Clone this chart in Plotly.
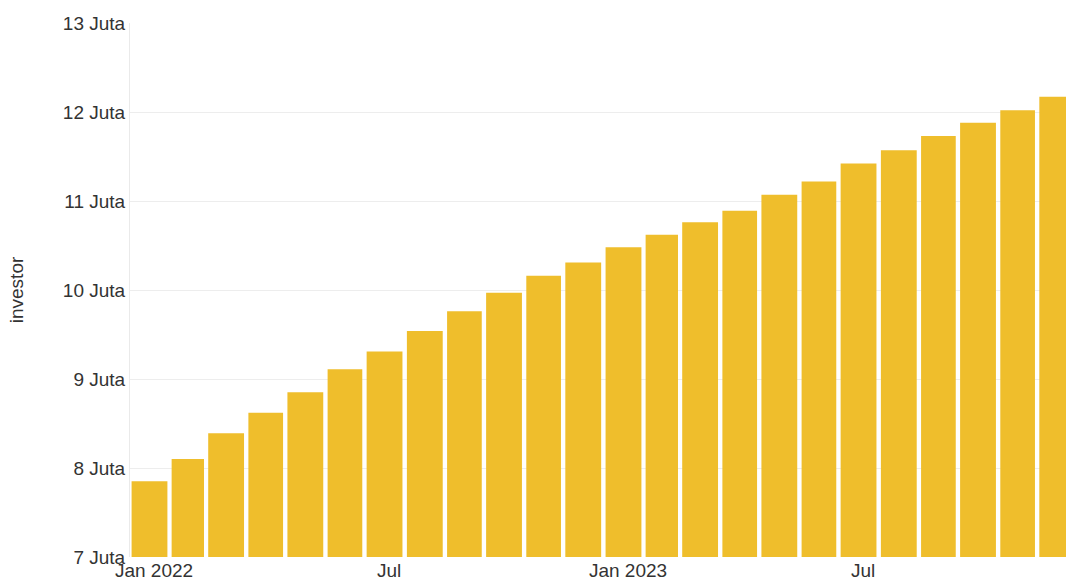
import pandas as pd
import plotly.graph_objects as go

months = pd.date_range("2022-01-01", "2023-12-01", freq="MS")
investors_juta = [7.85, 8.10, 8.39, 8.62, 8.85, 9.11, 9.31, 9.54, 9.76, 9.97, 10.16, 10.31,
                  10.48, 10.62, 10.76, 10.89, 11.07, 11.22, 11.42, 11.57, 11.73, 11.88, 12.02, 12.17]
y_ticks = [7, 8, 9, 10, 11, 12, 13]
y_tick_labels = [f"{v} Juta" for v in y_ticks]
x_tick_dates = ["2022-01-20", "2022-07-20", "2023-01-20", "2023-07-20"]
x_tick_labels = ["Jan 2022", "Jul", "Jan 2023", "Jul"]

# bars span their month: centred at mid-month, width proportional to month length
days = months.days_in_month
centers = [m + pd.Timedelta(days=d / 2) for m, d in zip(months, days)]
widths = [d * 0.89 * 86400000 for d in days]

fig = go.Figure(go.Bar(
    x=centers, y=investors_juta, width=widths,
    marker=dict(color="#EFBE2C", line=dict(width=0)),
    name="investor",
))

font = "Liberation Sans, Arial, sans-serif"
fig.update_layout(
    width=1066, height=580,
    margin=dict(l=130, r=0, t=23, b=23),
    paper_bgcolor="white", plot_bgcolor="white",
    font=dict(family=font, size=19, color="#333"),
    showlegend=False,
)
fig.update_xaxes(
    type="date",
    range=["2022-01-01 11:37", "2023-12-23 06:00"],
    tickvals=x_tick_dates, ticktext=x_tick_labels,
    showgrid=False, showline=False, ticks="", zeroline=False,
    tickfont=dict(size=19), ticklabelstandoff=0,
)
fig.update_yaxes(
    range=[7, 13], tickvals=y_ticks, ticktext=y_tick_labels,
    showgrid=True, gridcolor="#EDEDED", gridwidth=1,
    showline=True, linecolor="#EAEAEA", linewidth=1,
    zeroline=False, ticks="", tickfont=dict(size=19),
    title=dict(text="investor", font=dict(size=19), standoff=34),
)
fig.write_html(
    "out.html",
    config={"displayModeBar": False},
    post_script="document.body.style.margin='0';document.body.style.overflow='hidden';",
)
